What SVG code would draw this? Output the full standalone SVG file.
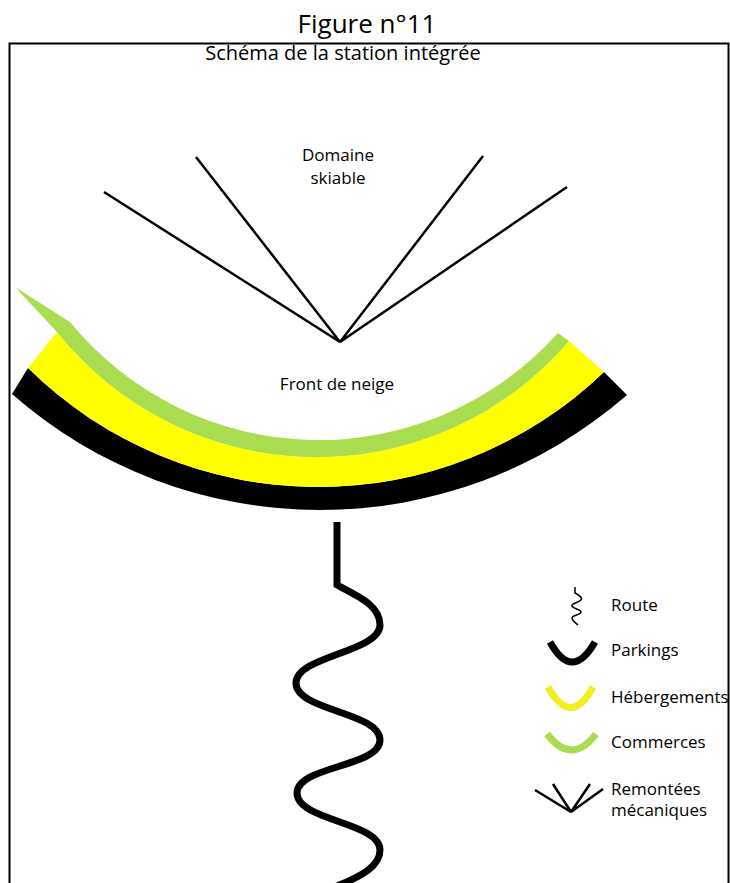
<svg xmlns="http://www.w3.org/2000/svg" width="730" height="883" viewBox="0 0 730 883">
<style>
  text { font-family: "Open Sans", "Noto Sans", sans-serif; fill: #000; }
  .lbl { font-size: 17px; }
  .lift { stroke: #000; stroke-width: 2.5; fill: none; stroke-linecap: butt; }
  .route { stroke: #000; stroke-width: 7; fill: none; }
</style>
<rect x="0" y="0" width="730" height="883" fill="#fff"/>
<text x="367" y="33" font-size="26" text-anchor="middle">Figure n°11</text>
<rect x="9.5" y="43.5" width="719" height="860" fill="none" stroke="#000" stroke-width="2"/>
<text x="343" y="60" font-size="20" text-anchor="middle">Schéma de la station intégrée</text>

<g id="parkings">
  <path d="M12,394 A467,467 0 0 0 627,395 L604,372 A413,413 0 0 1 28,368 Z" fill="#000"/>
</g>
<g id="hebergements">
  <path d="M28,368 A413,413 0 0 0 604,372 L569,341 A332,332 0 0 1 57,332 Z" fill="#FFFF00"/>
</g>
<g id="commerces">
  <path d="M15,287 L70,322 A321,321 0 0 0 558,333 L569,341 A332,332 0 0 1 57,332 Z" fill="#AADC50"/>
</g>

<g id="remontees">
  <path class="lift" d="M104,192 L340,342 L196,157 M483,156 L340,342 L567,187"/>
</g>
<g id="domaine">
  <text class="lbl" x="338" y="161" text-anchor="middle">Domaine</text>
  <text class="lbl" x="338" y="184" text-anchor="middle">skiable</text>
</g>
<g id="front">
  <text class="lbl" x="337" y="390" text-anchor="middle">Front de neige</text>
</g>

<g id="connectors">
  <path class="route" d="M337,522 V585 C360,597 380,606 380,625 C380,652 296,656 296,683 C296,711 380,712 380,740 C380,767 297,766 297,793 C297,821 380,822 380,850 C380,866 362,876 337,886"/>
</g>

<g id="legend">
  <path d="M575,587 V593 C579,595 583,598 581,600 C578,603 571,603 572,606 C573,609 581,609 581,612 C581,615 572,615 572,618 C572,621 576,623 578,625" stroke="#000" stroke-width="1.5" fill="none"/>
  <text class="lbl" x="611" y="611">Route</text>
  <path d="M550,642 Q572,682 595,642" stroke="#000" stroke-width="7" fill="none"/>
  <text class="lbl" x="611" y="656">Parkings</text>
  <path d="M548,687 Q571,728 593,687" stroke="#F0F020" stroke-width="7" fill="none"/>
  <text class="lbl" x="611" y="703">Hébergements</text>
  <path d="M547,734 Q572,766 596,734" stroke="#AADC50" stroke-width="7" fill="none"/>
  <text class="lbl" x="611" y="748">Commerces</text>
  <path class="lift" d="M535,790 L571,812 L553,784 M590,784 L571,812 L603,789"/>
  <text class="lbl" x="611" y="795">Remontées</text>
  <text class="lbl" x="611" y="816">mécaniques</text>
</g>
</svg>
